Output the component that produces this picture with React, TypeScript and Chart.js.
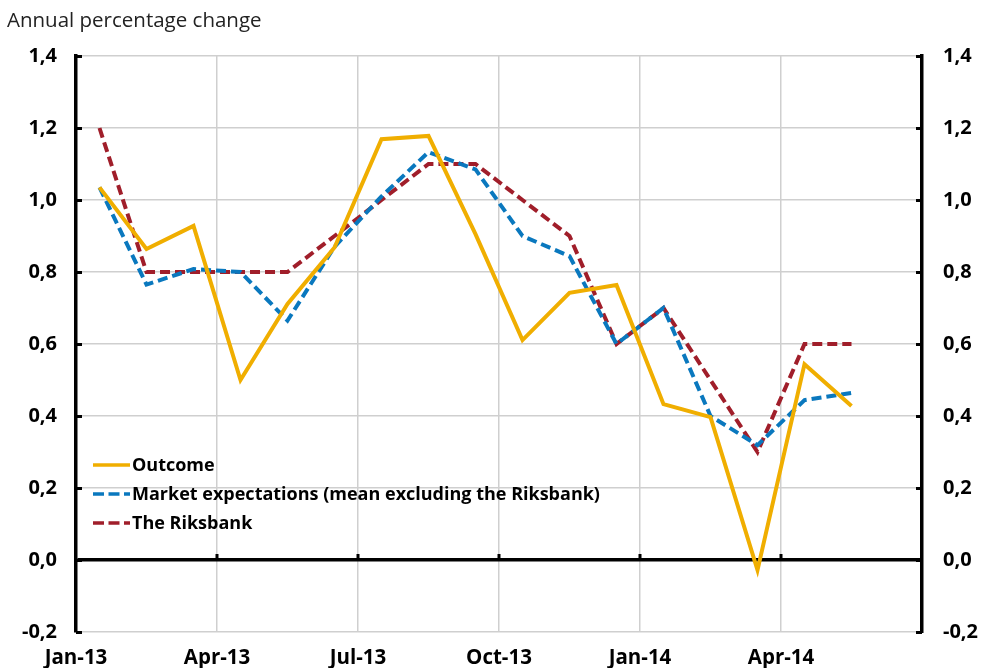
import React, { useEffect, useRef } from "react";
import { Chart, registerables } from "chart.js";

Chart.register(...registerables);

const categories = [
  "Jan-13", "Feb-13", "Mar-13", "Apr-13", "May-13", "Jun-13", "Jul-13", "Aug-13", "Sep-13",
  "Oct-13", "Nov-13", "Dec-13", "Jan-14", "Feb-14", "Mar-14", "Apr-14", "May-14", "Jun-14",
];
const tickLabels = ["Jan-13", "Apr-13", "Jul-13", "Oct-13", "Jan-14", "Apr-14", ""];

const outcome = [1.035, 0.864, 0.928, 0.5, 0.711, 0.868, 1.169, 1.178, 0.905, 0.611, 0.742, 0.764, 0.433, 0.397, -0.028, 0.544, 0.428];
const marketExpectations = [1.035, 0.765, 0.808, 0.8, 0.665, 0.87, 1.01, 1.133, 1.085, 0.9, 0.844, 0.6, 0.7, 0.4, 0.319, 0.444, 0.464];
const riksbank = [1.2, 0.8, 0.8, 0.8, 0.8, 0.9, 1.0, 1.1, 1.1, 1.0, 0.9, 0.6, 0.7, 0.5, 0.3, 0.6, 0.6];

const COLORS = { outcome: "#F0AE00", market: "#0A78BE", riksbank: "#A01E2A" };
const FONT = "'Open Sans', 'Noto Sans', sans-serif";

const toPoints = (arr: number[]) => arr.map((v, i) => ({ x: i + 0.5, y: v }));

const fmt = (v: number) => (Math.abs(v) < 1e-9 ? 0 : v).toFixed(1).replace(".", ",");

const nubPlugin = {
  id: "nubs",
  afterDraw(chart: any) {
    const { ctx, scales } = chart;
    const y = scales.y;
    const x = scales.x;
    ctx.save();
    ctx.strokeStyle = "#000";
    ctx.lineWidth = 3;
    ctx.beginPath();
    for (let v = -0.2; v <= 1.41; v += 0.2) {
      const py = Math.round(y.getPixelForValue(v)) + 0.5;
      ctx.moveTo(x.left, py);
      ctx.lineTo(x.left + 6, py);
      ctx.moveTo(x.right, py);
      ctx.lineTo(x.right - 6, py);
    }
    const zy = y.getPixelForValue(0);
    for (let i = 3; i < categories.length; i += 3) {
      const px = x.getPixelForValue(i);
      ctx.moveTo(px, zy);
      ctx.lineTo(px, zy - 6);
    }
    ctx.stroke();
    ctx.restore();
  },
};

function LegendRow({ color, dash, label }: { color: string; dash?: string; label: string }) {
  return (
    <div style={{ display: "flex", alignItems: "center", height: 29 }}>
      <svg width={40} height={8} style={{ display: "block" }}>
        <line x1={1} y1={4} x2={38} y2={4} stroke={color} strokeWidth={3.5} strokeDasharray={dash} />
      </svg>
      <span style={{ fontFamily: FONT, fontWeight: 700, fontSize: 18, color: "#000", lineHeight: "29px" }}>{label}</span>
    </div>
  );
}

export default function App() {
  const ref = useRef<HTMLCanvasElement>(null);

  useEffect(() => {
    if (!ref.current) return;
    const tickFont = { family: FONT, size: 20, weight: "bold" as const };
    const yTicks = {
      stepSize: 0.2,
      color: "#000",
      font: tickFont,
      callback: (v: any) => fmt(Number(v)),
    };
    const chart = new Chart(ref.current, {
      type: "line",
      data: {
        datasets: [
          {
            label: "Outcome",
            data: toPoints(outcome),
            borderColor: COLORS.outcome,
            borderWidth: 4,
            pointRadius: 0,
            tension: 0,
          },
          {
            label: "Market expectations (mean excluding the Riksbank)",
            data: toPoints(marketExpectations),
            borderColor: COLORS.market,
            borderWidth: 4,
            borderDash: [10, 5],
            pointRadius: 0,
            tension: 0,
          },
          {
            label: "The Riksbank",
            data: toPoints(riksbank),
            borderColor: COLORS.riksbank,
            borderWidth: 4,
            borderDash: [10, 5],
            pointRadius: 0,
            tension: 0,
          },
        ],
      },
      options: {
        animation: false,
        responsive: false,
        maintainAspectRatio: false,
        layout: { padding: { top: 56, left: 0, right: 0, bottom: 0 } },
        plugins: { legend: { display: false }, tooltip: { enabled: false }, title: { display: false } },
        scales: {
          x: {
            type: "linear",
            min: 0,
            max: categories.length,
            afterFit: (s: any) => { s.height = 36; },
            afterBuildTicks: (s: any) => {
              s.ticks = tickLabels.map((_, i) => ({ value: i * 3 }));
            },
            ticks: {
              color: "#000",
              font: { family: FONT, size: 20.5, weight: "bold" },
              padding: 14,
              maxRotation: 0,
              autoSkip: false,
              callback: (v: any) => tickLabels[Math.round(Number(v) / 3)] ?? "",
            },
            grid: { color: "#cfcfcf", lineWidth: 1.5, drawTicks: false },
            border: { display: false },
          },
          y: {
            position: "left",
            min: -0.2,
            max: 1.4,
            afterFit: (s: any) => { s.width = 76; },
            ticks: { ...yTicks, padding: 19 },
            grid: {
              drawTicks: false,
              color: (c: any) => (Math.abs(c.tick.value) < 1e-9 ? "#000" : "#cfcfcf"),
              lineWidth: (c: any) => (Math.abs(c.tick.value) < 1e-9 ? 3.5 : 1.5),
            },
            border: { display: true, color: "#000", width: 3.5 },
          },
          y2: {
            position: "right",
            min: -0.2,
            max: 1.4,
            afterFit: (s: any) => { s.width = 61; },
            ticks: { ...yTicks, padding: 21 },
            grid: { display: false, drawTicks: false },
            border: { display: true, color: "#000", width: 3.5 },
          },
        },
      } as any,
      plugins: [nubPlugin],
    });
    return () => chart.destroy();
  }, []);

  return (
    <div style={{ position: "fixed", left: 0, top: 0, width: 983, height: 668, background: "#fff" }}>
      <canvas ref={ref} width={983} height={668} style={{ position: "absolute", left: 0, top: 0, width: 983, height: 668 }} />
      <div style={{ position: "absolute", left: 7, top: 5, fontFamily: FONT, fontSize: 20.5, color: "#222", lineHeight: "28px" }}>
        Annual percentage change
      </div>
      <div style={{ position: "absolute", left: 92, top: 450 }}>
        <LegendRow color={COLORS.outcome} label="Outcome" />
        <LegendRow color={COLORS.market} dash="11 4.5" label="Market expectations (mean excluding the Riksbank)" />
        <LegendRow color={COLORS.riksbank} dash="11 4.5" label="The Riksbank" />
      </div>
    </div>
  );
}
